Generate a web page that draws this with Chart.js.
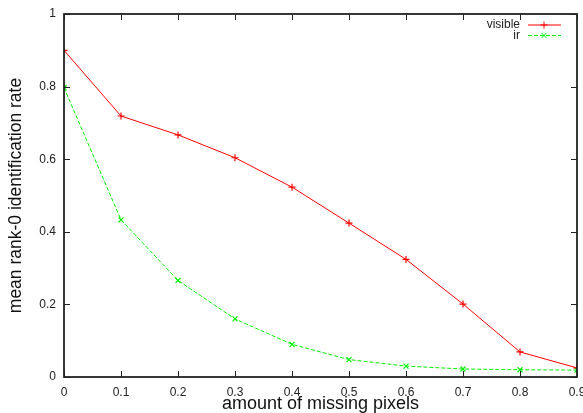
<!DOCTYPE html>
<html>
<head>
<meta charset="utf-8">
<script src="https://cdn.jsdelivr.net/npm/chart.js@4.4.0/dist/chart.umd.min.js"></script>
<style>
  html, body { margin: 0; padding: 0; background: #fff; }
  #wrap { width: 583px; height: 413px; }
</style>
</head>
<body>
<div id="wrap"><canvas id="chart" width="583" height="413"></canvas></div>
<script>
// ─── Data ───────────────────────────────────────────────────

const missing = [0, 0.1, 0.2, 0.3, 0.4, 0.5, 0.6, 0.7, 0.8, 0.9];
const visibleRate = [0.900, 0.719, 0.667, 0.604, 0.523, 0.424, 0.324, 0.201, 0.069, 0.025];
const irRate = [0.797, 0.433, 0.266, 0.160, 0.090, 0.048, 0.030, 0.022, 0.020, 0.019];

const RED = '#ff0000';
const GREEN = '#00f000';
const FONT = 'Liberation Sans, Arial, sans-serif';

// ─── Gnuplot-style frame, inner ticks and legend ────────────

const framePlugin = {
  id: 'frame',
  afterDraw(chart) {
    const { ctx, chartArea: a, scales } = chart;
    const len = 6;
    ctx.save();
    ctx.strokeStyle = '#222';
    ctx.lineWidth = 1;
    scales.x.ticks.forEach(t => {
      const px = Math.round(scales.x.getPixelForValue(t.value)) + 0.5;
      ctx.beginPath();
      ctx.moveTo(px, a.bottom); ctx.lineTo(px, a.bottom - len);
      ctx.moveTo(px, a.top); ctx.lineTo(px, a.top + len);
      ctx.stroke();
    });
    scales.y.ticks.forEach(t => {
      const py = Math.round(scales.y.getPixelForValue(t.value)) + 0.5;
      ctx.beginPath();
      ctx.moveTo(a.left, py); ctx.lineTo(a.left + len, py);
      ctx.moveTo(a.right, py); ctx.lineTo(a.right - len, py);
      ctx.stroke();
    });
    ctx.lineWidth = 1.8;
    ctx.strokeRect(a.left, a.top, a.right - a.left, a.bottom - a.top);

    // legend, top right, text to the left of the sample
    ctx.font = '12px ' + FONT;
    ctx.textAlign = 'right';
    ctx.textBaseline = 'middle';
    chart.data.datasets.forEach((ds, i) => {
      const y = 25 + i * 10.5;
      ctx.fillStyle = '#222';
      ctx.fillText(ds.label, 520, y);
      ctx.strokeStyle = ds.borderColor;
      ctx.lineWidth = 1;
      ctx.setLineDash(ds.borderDash || []);
      ctx.beginPath();
      ctx.moveTo(528, y); ctx.lineTo(561, y);
      ctx.stroke();
      ctx.setLineDash([]);
      Chart.helpers.drawPoint(ctx, {
        pointStyle: ds.pointStyle,
        radius: ds.pointRadius,
        rotation: 0,
        borderWidth: 1.2,
      }, 544, y);
    });
    ctx.restore();
  },
};

// ─── Chart ──────────────────────────────────────────────────

const toPoints = vals => missing.map((x, i) => ({ x, y: vals[i] }));

new Chart(document.getElementById('chart'), {
  type: 'line',
  data: {
    datasets: [
      {
        label: 'visible',
        data: toPoints(visibleRate),
        borderColor: RED,
        backgroundColor: RED,
        borderWidth: 1,
        pointStyle: 'cross',
        pointRadius: 3.5,
        pointBorderWidth: 1.2,
        tension: 0,
      },
      {
        label: 'ir',
        data: toPoints(irRate),
        borderColor: GREEN,
        backgroundColor: GREEN,
        borderWidth: 1,
        borderDash: [4, 2],
        pointStyle: 'crossRot',
        pointRadius: 3.5,
        pointBorderWidth: 1.2,
        tension: 0,
      },
    ],
  },
  options: {
    responsive: false,
    animation: false,
    layout: { padding: { left: 0, right: 6, top: 14, bottom: 0 } },
    plugins: {
      legend: { display: false },
      tooltip: { enabled: false },
    },
    scales: {
      x: {
        type: 'linear',
        min: 0,
        max: 0.9,
        grid: { display: false, drawTicks: false },
        border: { display: false },
        ticks: {
          stepSize: 0.1,
          padding: 8,
          color: '#222',
          font: { family: FONT, size: 12 },
          maxRotation: 0,
          callback: v => String(+v.toFixed(1)),
        },
        title: {
          display: true,
          text: 'amount of missing pixels',
          color: '#111',
          font: { family: FONT, size: 18, lineHeight: 1 },
          padding: { top: 0, bottom: 0 },
        },
        afterFit: s => { s.height = 36; s.paddingLeft = 0; s.paddingRight = 0; },
      },
      y: {
        min: 0,
        max: 1,
        grid: { display: false, drawTicks: false },
        border: { display: false },
        ticks: {
          stepSize: 0.2,
          padding: 8,
          color: '#222',
          font: { family: FONT, size: 12 },
          callback: v => String(+v.toFixed(1)),
        },
        title: {
          display: true,
          text: 'mean rank-0 identification rate',
          color: '#111',
          font: { family: FONT, size: 17.5, lineHeight: 1 },
          padding: { top: 7, bottom: 0 },
        },
        afterFit: s => { s.width = 64; s.paddingTop = 0; s.paddingBottom = 0; },
      },
    },
  },
  plugins: [framePlugin],
});
</script>
</body>
</html>
